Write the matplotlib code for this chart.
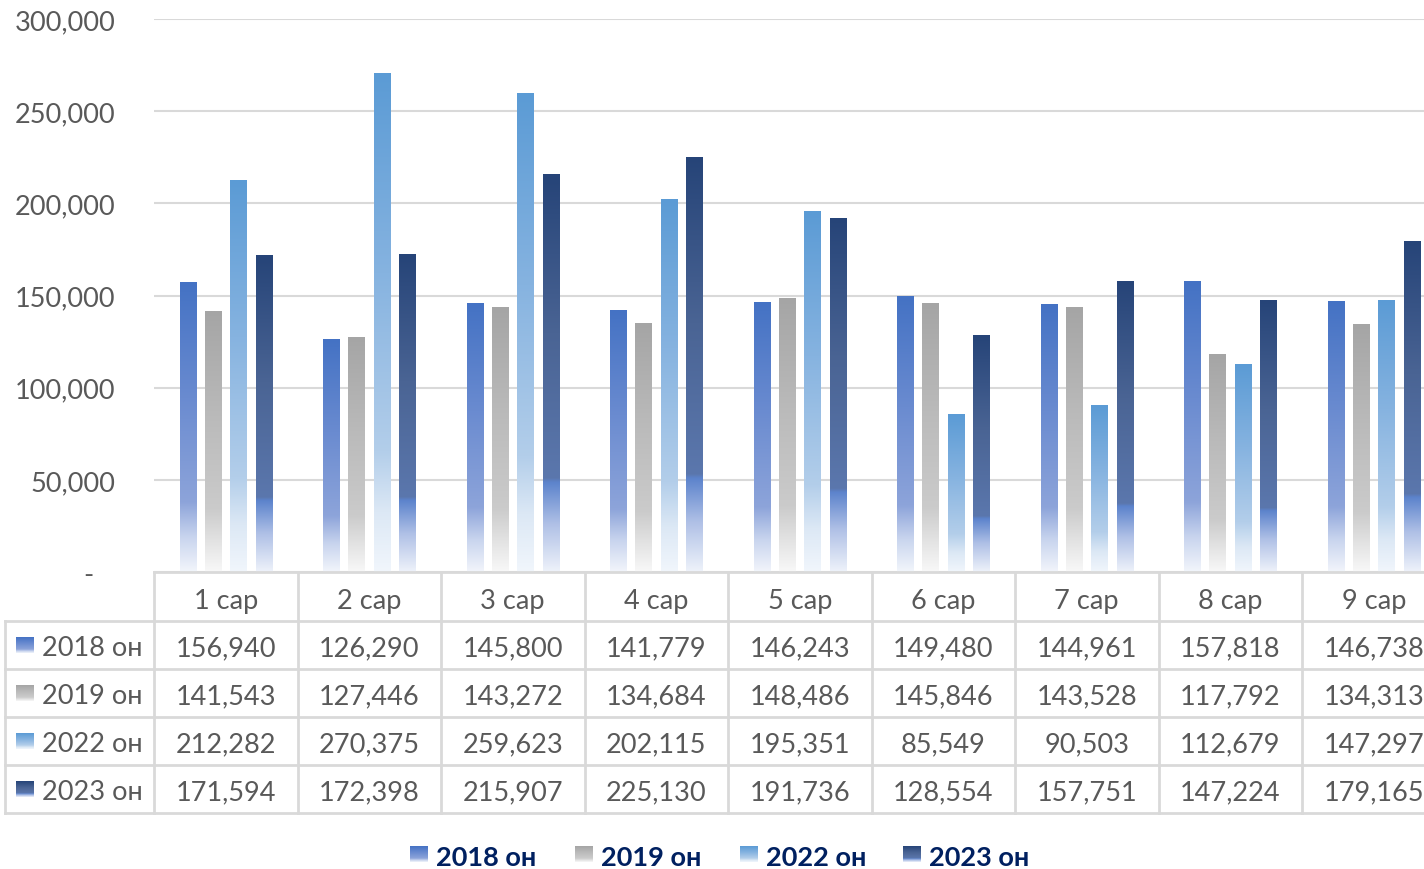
import numpy as np
import matplotlib
matplotlib.use('Agg')
import matplotlib.pyplot as plt
from matplotlib.colors import LinearSegmentedColormap
from matplotlib.transforms import blended_transform_factory
from matplotlib.lines import Line2D
from matplotlib.ticker import FuncFormatter

categories = ['1 сар', '2 сар', '3 сар', '4 сар', '5 сар', '6 сар', '7 сар', '8 сар', '9 сар']
series_names = ['2018 он', '2019 он', '2022 он', '2023 он']
v2018 = [156940, 126290, 145800, 141779, 146243, 149480, 144961, 157818, 146738]
v2019 = [141543, 127446, 143272, 134684, 148486, 145846, 143528, 117792, 134313]
v2022 = [212282, 270375, 259623, 202115, 195351, 85549, 90503, 112679, 147297]
v2023 = [171594, 172398, 215907, 225130, 191736, 128554, 157751, 147224, 179165]
yticks = [0, 50000, 100000, 150000, 200000, 250000, 300000]

series_values = [v2018, v2019, v2022, v2023]
gradients = [
    [(0.0, '#F2F5FB'), (0.12, '#C8D4EE'), (0.24, '#8DA4DA'), (0.6, '#6A8BD0'), (1.0, '#4472C4')],
    [(0.0, '#F8F8F8'), (0.12, '#E2E2E2'), (0.24, '#CBCBCB'), (0.6, '#BABABA'), (1.0, '#A5A5A5')],
    [(0.0, '#F1F6FC'), (0.12, '#DCE8F5'), (0.24, '#B3CEEA'), (0.6, '#86B3E0'), (1.0, '#5B9BD5')],
    [(0.0, '#EEF2FA'), (0.12, '#AFC0E6'), (0.225, '#5C83CC'), (0.235, '#5B77AD'), (0.6, '#4A6494'), (1.0, '#264478')],
]
cmaps = [LinearSegmentedColormap.from_list(f'g{i}', g) for i, g in enumerate(gradients)]

W, H = 1424, 870
plt.rcParams['font.family'] = ['Lato', 'Open Sans', 'DejaVu Sans']
fig = plt.figure(figsize=(W / 100, H / 100), dpi=100)

def fx(px):
    return px / W

def fy(py):
    return 1 - py / H

ax_left, ax_right = 154, 154 + 9 * 143.5
ax = fig.add_axes([fx(ax_left), fy(573), fx(ax_right - ax_left), fy(20) - fy(573)])
ax.set_xlim(-0.5, 8.5)
ax.set_ylim(0, 300000)

bar_w = 0.112
offsets = [-0.2635, -0.089, 0.089, 0.2635]
grad_img = np.linspace(0, 1, 256).reshape(-1, 1)
for s, vals in enumerate(series_values):
    for i, v in enumerate(vals):
        x0 = i + offsets[s] - bar_w / 2
        ax.imshow(grad_img, cmap=cmaps[s], origin='lower', aspect='auto',
                  extent=[x0, x0 + bar_w, 0, v], interpolation='bilinear', zorder=3)
ax.set_xlim(-0.5, 8.5)
ax.set_ylim(0, 300000)
ax.set_aspect('auto')

ax.set_yticks(yticks)
ax.yaxis.set_major_formatter(FuncFormatter(lambda v, p: '-   ' if v == 0 else f'{int(v):,}'))
ax.tick_params(axis='y', length=0, pad=28, labelsize=19.5, labelcolor='#595959')
ax.set_xticks([])
ax.grid(axis='y', color='#D9D9D9', linewidth=1.5, zorder=0)
for sp in ax.spines.values():
    sp.set_visible(False)

# Data table
line_c = '#D9D9D9'
lw = 2
tb = blended_transform_factory(ax.transData, fig.transFigure)
fig.add_artist(Line2D([fx(154), 1.02], [fy(573), fy(573)], transform=fig.transFigure, color=line_c, lw=lw))
for py in [622, 670, 718, 766, 814]:
    fig.add_artist(Line2D([fx(5), 1.02], [fy(py), fy(py)], transform=fig.transFigure, color=line_c, lw=lw))
for i in range(10):
    fig.add_artist(Line2D([i - 0.5, i - 0.5], [fy(573), fy(814)], transform=tb, color=line_c, lw=lw))
fig.add_artist(Line2D([fx(5), fx(5)], [fy(622), fy(814)], transform=fig.transFigure, color=line_c, lw=lw))

txt_kw = dict(fontsize=19.5, color='#595959', va='center_baseline')
for i, c in enumerate(categories):
    fig.text(i, fy(599), c, transform=tb, ha='center', **txt_kw)
row_y = [646, 694, 742, 790]
for s, vals in enumerate(series_values):
    for i, v in enumerate(vals):
        fig.text(i, fy(row_y[s]), f'{v:,}', transform=tb, ha='center', **txt_kw)
    fig.text(fx(42), fy(row_y[s]), series_names[s], ha='left', **txt_kw)
    sq = fig.add_axes([fx(16), fy(row_y[s] + 8), fx(18), 16 / H])
    sq.imshow(grad_img, cmap=cmaps[s], origin='lower', aspect='auto', interpolation='bilinear')
    sq.axis('off')

# Legend
leg_sq_x = [410, 575, 740, 903]
for s, name in enumerate(series_names):
    sq = fig.add_axes([fx(leg_sq_x[s]), fy(863), fx(18), 16 / H])
    sq.imshow(grad_img, cmap=cmaps[s], origin='lower', aspect='auto', interpolation='bilinear')
    sq.axis('off')
    fig.text(fx(leg_sq_x[s] + 26), fy(856), name, ha='left', va='center_baseline',
             fontsize=19.5, fontweight='bold', color='#002060')

fig.savefig('out.png', dpi=100)
